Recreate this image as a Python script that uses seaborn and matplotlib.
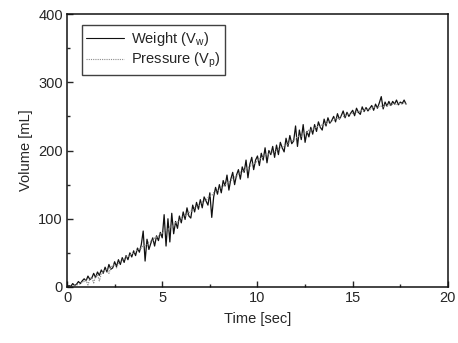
import numpy as np
import pandas as pd
import matplotlib
matplotlib.use("Agg")
import matplotlib.pyplot as plt
from matplotlib.ticker import MultipleLocator
import seaborn as sns

# time axis (seconds), 0.1 s steps from 0 to 17.8
time_s = [round(i * 0.1, 1) for i in range(179)]

weight_ml = [
    0, 2, 1, 5, 2, 4, 8, 5, 9, 12,
    9, 16, 11, 13, 20, 14, 22, 17, 25, 20,
    29, 22, 33, 26, 28, 37, 30, 40, 33, 43,
    36, 46, 40, 50, 44, 53, 46, 57, 51, 62,
    82, 38, 70, 55, 64, 72, 60, 75, 68, 80,
    72, 106, 60, 100, 66, 108, 78, 96, 86, 104,
    94, 110, 99, 116, 104, 101, 120, 110, 124, 114,
    128, 116, 132, 126, 120, 138, 102, 132, 146, 136,
    150, 138, 156, 148, 164, 142, 158, 168, 150, 164,
    172, 158, 176, 168, 186, 160, 180, 190, 172, 186,
    192, 178, 196, 186, 204, 182, 200, 194, 206, 190,
    208, 194, 212, 204, 198, 218, 206, 222, 210, 214,
    236, 206, 230, 216, 238, 212, 228, 220, 234, 224,
    238, 228, 242, 234, 230, 246, 236, 248, 240, 244,
    250, 242, 254, 246, 251, 258, 248, 256, 250, 255,
    259, 251, 262, 256, 253, 264, 257, 263, 258, 262,
    266, 259, 268, 262, 270, 279, 261, 271, 265, 272,
    266, 272, 268, 274, 267, 271, 269, 274, 268,
]

pressure_ml = [
    0, 0, 1, 1, 2, 3, 4, 5, 7, 8,
    10, 3, 12, 14, 6, 16, 18, 9, 20, 22,
    24, 26, 20, 29, 31, 33, 28, 35, 37, 39,
    41, 44, 45, 46, 49, 50, 52, 55, 56, 57,
    60, 61, 62, 66, 67, 68, 72, 73, 74, 78,
    79, 82, 83, 84, 88, 89, 90, 94, 95, 97,
    100, 103, 104, 105, 109, 111, 112, 116, 118, 119,
    122, 125, 126, 127, 131, 133, 134, 138, 140, 141,
    144, 147, 148, 149, 153, 154, 155, 160, 161, 162,
    165, 168, 169, 170, 174, 175, 176, 180, 181, 182,
    185, 188, 189, 190, 194, 195, 195, 198, 198, 198,
    200, 203, 204, 204, 208, 208, 209, 213, 214, 215,
    218, 220, 221, 221, 225, 226, 226, 230, 230, 231,
    233, 235, 235, 235, 238, 238, 239, 242, 242, 243,
    245, 247, 247, 247, 250, 250, 250, 253, 253, 253,
    255, 256, 256, 256, 259, 259, 258, 261, 261, 260,
    262, 264, 263, 263, 265, 265, 264, 267, 266, 266,
    267, 268, 268, 267, 269, 269, 268, 270, 269,
]

labels = ["Weight (V$_\\mathrm{w}$)", "Pressure (V$_\\mathrm{p}$)"]

df = pd.DataFrame({
    "t": time_s * 2,
    "v": weight_ml + pressure_ml,
    "series": [labels[0]] * len(time_s) + [labels[1]] * len(time_s),
})

sns.set_style("ticks")
plt.rcParams["font.family"] = ["Liberation Sans", "DejaVu Sans"]
plt.rcParams["mathtext.fontset"] = "custom"
plt.rcParams["mathtext.rm"] = "Liberation Sans"
plt.rcParams["xtick.direction"] = "in"
plt.rcParams["ytick.direction"] = "in"

fig = plt.figure(figsize=(4.58, 3.43), dpi=100)
ax = fig.add_axes([0.1463, 0.1633, 0.8317, 0.7957])

sns.lineplot(data=df, x="t", y="v", hue="series", style="series",
             palette={labels[0]: "#111111", labels[1]: "#8c8c8c"},
             dashes={labels[0]: "", labels[1]: (1, 1)},
             linewidth=0.9, ax=ax, estimator=None, sort=False)

ax.set_xlim(0, 20)
ax.set_ylim(0, 400)
ax.xaxis.set_major_locator(MultipleLocator(5))
ax.xaxis.set_minor_locator(MultipleLocator(2.5))
ax.yaxis.set_major_locator(MultipleLocator(100))
ax.yaxis.set_minor_locator(MultipleLocator(50))
ax.tick_params(which="major", length=4, width=1, labelsize=10.5, pad=3)
ax.tick_params(which="minor", length=2.5, width=1)
for s in ax.spines.values():
    s.set_linewidth(1.1)
    s.set_color("#111111")

ax.set_xlabel("Time [sec]", fontsize=10.5, labelpad=5)
ax.set_ylabel("Volume [mL]", fontsize=10.5, labelpad=4)

leg = ax.legend(loc="upper left", bbox_to_anchor=(0.02, 0.985), fontsize=10.5,
                frameon=True, fancybox=False, handlelength=2.6,
                borderpad=0.3, labelspacing=0.2, handletextpad=0.5)
leg.get_frame().set_edgecolor("#111111")
leg.get_frame().set_linewidth(1.0)
for h in leg.get_lines():
    h.set_linewidth(0.8)

fig.savefig("out.png", dpi=100)
